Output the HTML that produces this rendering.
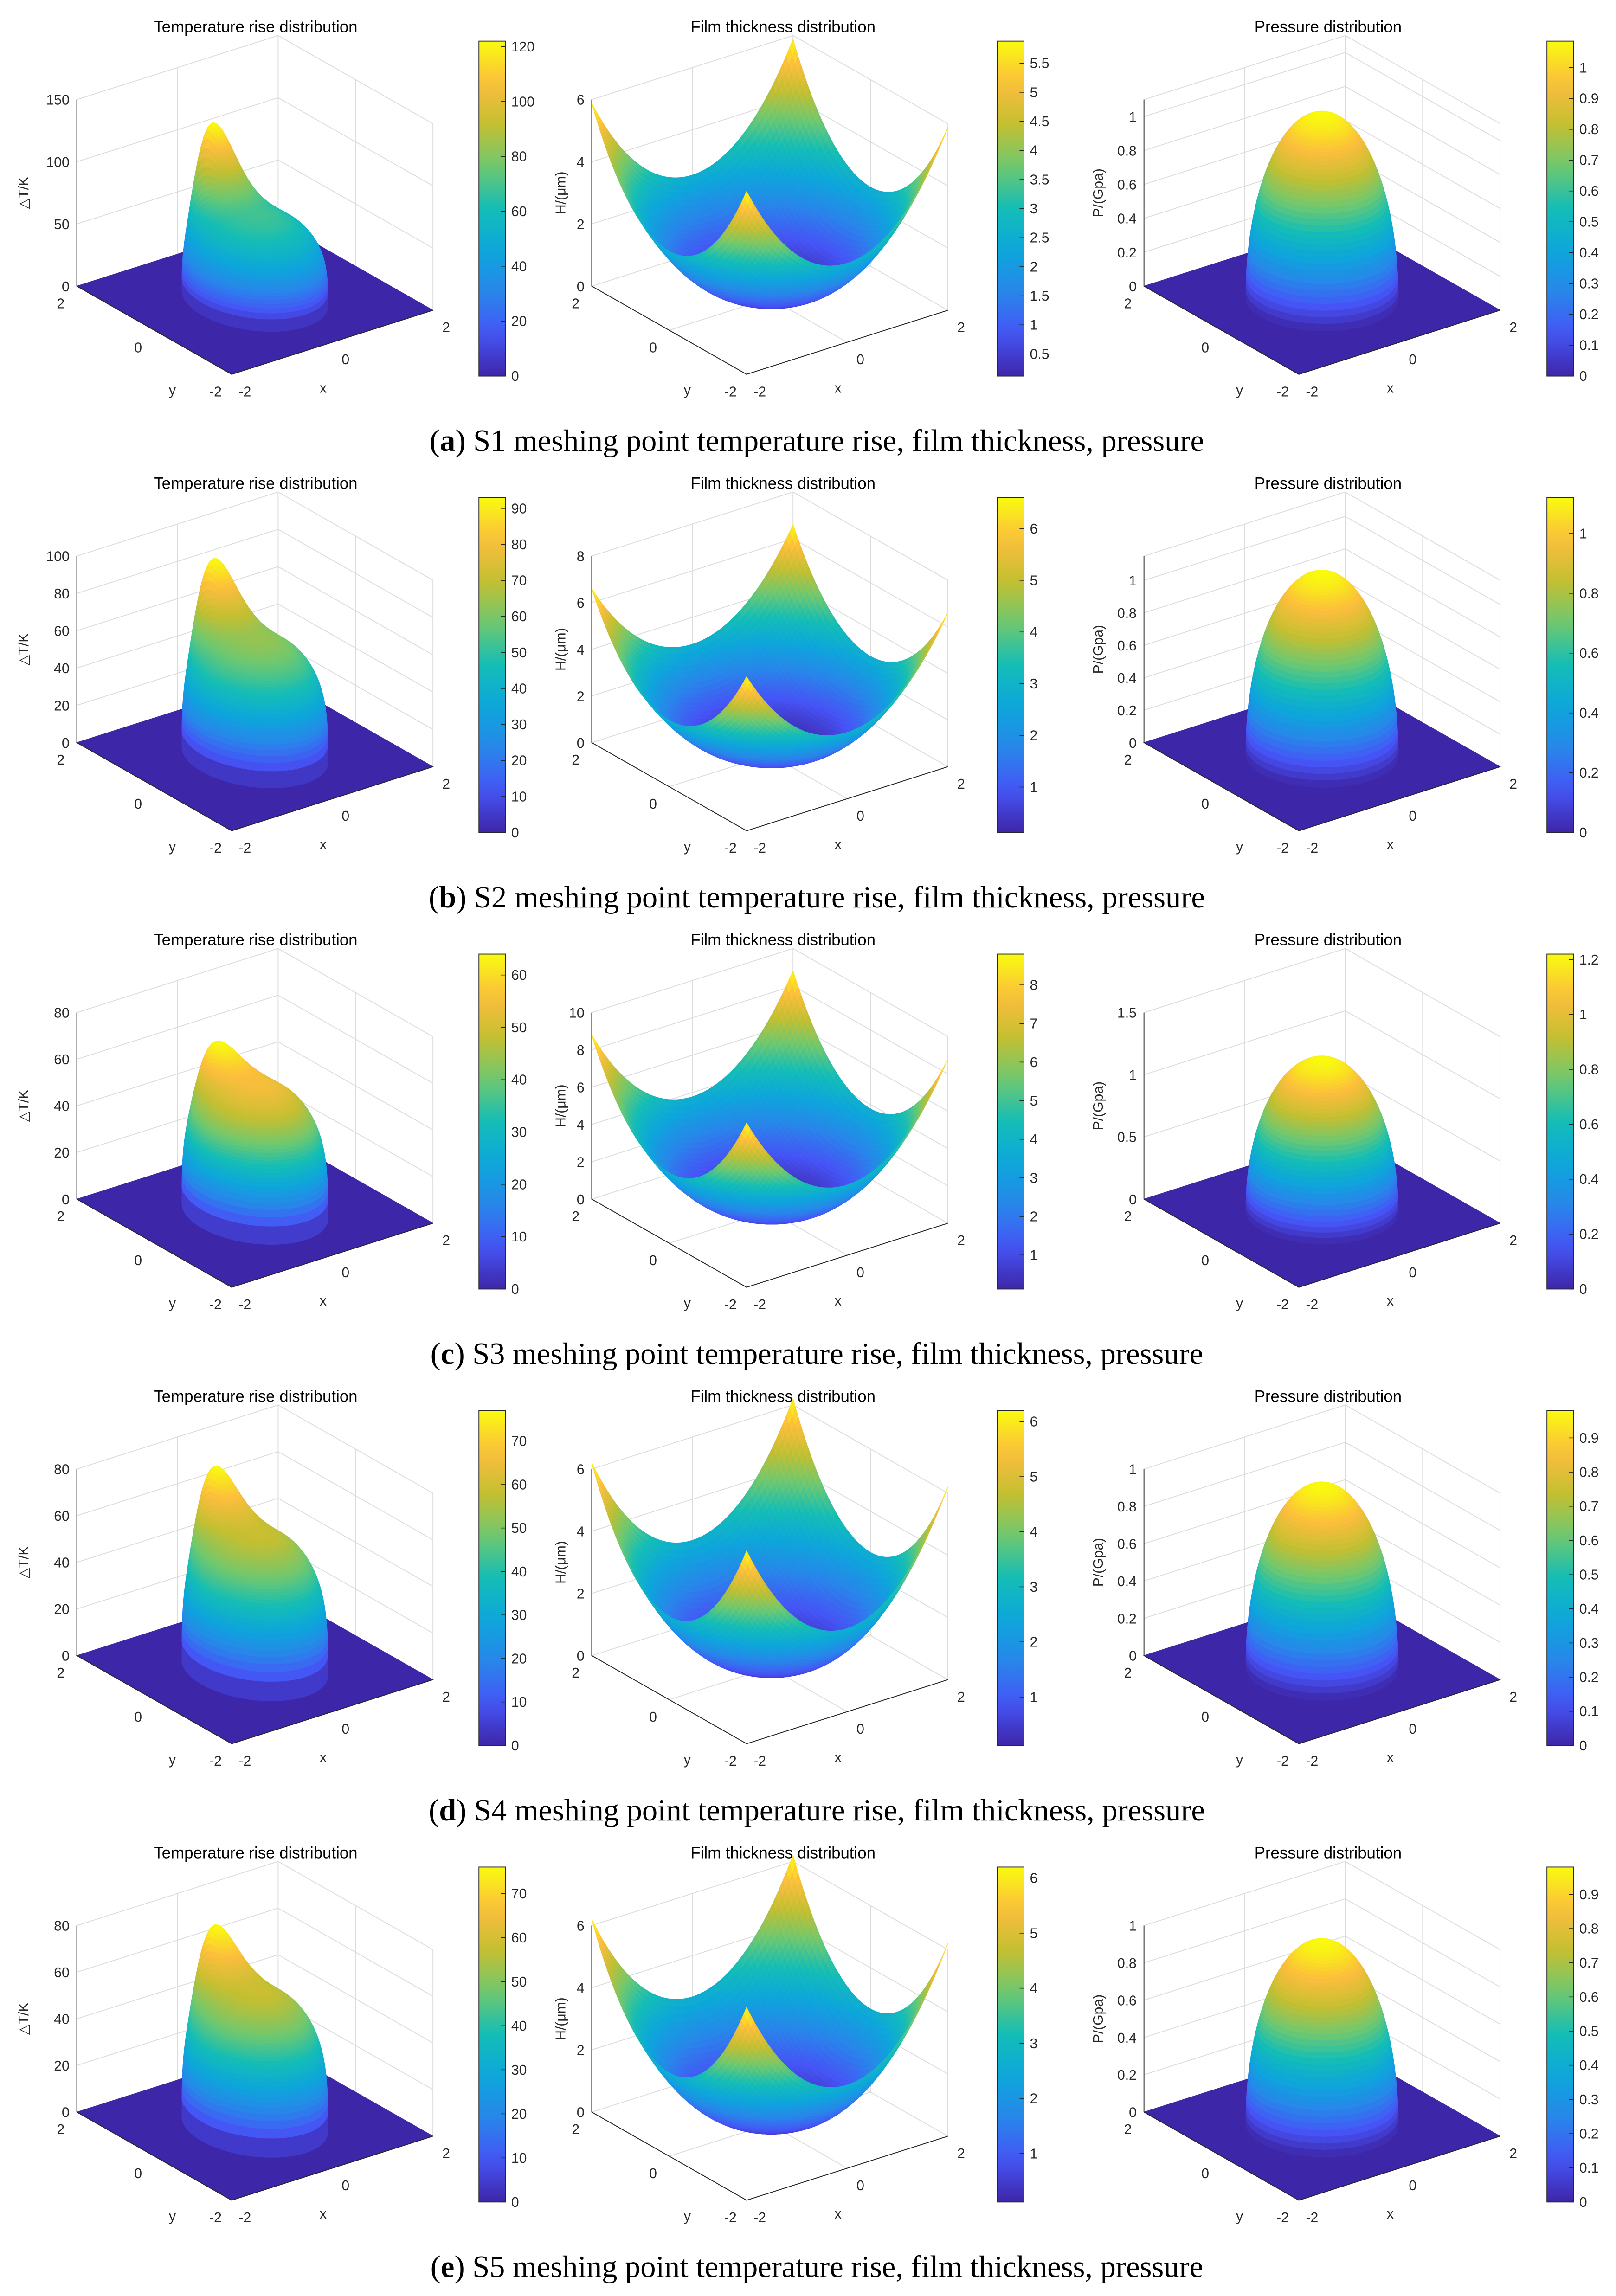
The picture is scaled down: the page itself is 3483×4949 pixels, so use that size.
<!DOCTYPE html>
<html><head><meta charset="utf-8"><title>S1–S5 meshing point surfaces: temperature rise, film thickness and pressure</title>
<style>
html,body{margin:0;padding:0;background:#fff;}
svg{display:block;}
.tk{font-family:"Liberation Sans",sans-serif;font-size:9.5px;fill:#262626;}
.ttl{font-family:"Liberation Sans",sans-serif;font-size:11px;fill:#000;}
.cap{font-family:"Liberation Serif",serif;font-size:21px;fill:#000;}
</style></head>
<body>
<svg id="fig" xmlns="http://www.w3.org/2000/svg" width="3483" height="4949" viewBox="0 0 1100 1563" preserveAspectRatio="none"></svg>
<script>
// ---- data arrays (one entry per row a..e) ----
const rowLetters=["a","b","c","d","e"];
const rowNames=["S1","S2","S3","S4","S5"];
const tempMax=[122,93,64,77,76];
const tempK=[1.3,0.9,0.5,0.7,0.7];
const tempZlim=[150,100,80,80,80];
const tempTicks=[[0,50,100,150],[0,20,40,60,80,100],[0,20,40,60,80],[0,20,40,60,80],[0,20,40,60,80]];
const tempCbTicks=[[0,20,40,60,80,100,120],[0,10,20,30,40,50,60,70,80,90],[0,10,20,30,40,50,60],[0,10,20,30,40,50,60,70],[0,10,20,30,40,50,60,70]];
const filmMin=[0.12,0.12,0.12,0.12,0.12];
const filmMax=[5.88,6.6,8.8,6.2,6.2];
const filmZlim=[6,8,10,6,6];
const filmTicks=[[0,2,4,6],[0,2,4,6,8],[0,2,4,6,8,10],[0,2,4,6],[0,2,4,6]];
const filmCbTicks=[[0.5,1,1.5,2,2.5,3,3.5,4,4.5,5,5.5],[1,2,3,4,5,6],[1,2,3,4,5,6,7,8],[1,2,3,4,5,6],[1,2,3,4,5,6]];
const presMax=[1.086,1.12,1.22,0.98,0.98];
const presZlim=[1.1,1.15,1.5,1.0,1.0];
const presTicks=[[0,0.2,0.4,0.6,0.8,1],[0,0.2,0.4,0.6,0.8,1],[0,0.5,1,1.5],[0,0.2,0.4,0.6,0.8,1],[0,0.2,0.4,0.6,0.8,1]];
const presCbTicks=[[0,0.1,0.2,0.3,0.4,0.5,0.6,0.7,0.8,0.9,1],[0,0.2,0.4,0.6,0.8,1],[0,0.2,0.4,0.6,0.8,1,1.2],[0,0.1,0.2,0.3,0.4,0.5,0.6,0.7,0.8,0.9],[0,0.1,0.2,0.3,0.4,0.5,0.6,0.7,0.8,0.9]];
const axisTicksXY=[-2,0,2];

const NS="http://www.w3.org/2000/svg";
const svg=document.getElementById("fig");
const ROW=310.75;
const colOx=[0,350.5,726.4];
const cbX=[326,679,1053];
const titleX=[174,533,904];
const pal=[[0,62,38,168],[0.125,70,84,246],[0.25,40,134,234],[0.375,13,166,219],[0.5,20,189,182],[0.625,110,200,112],[0.75,195,191,50],[0.875,252,190,61],[1,249,251,14]];
function parula(t){t=Math.max(0,Math.min(1,t));for(let i=1;i<pal.length;i++){if(t<=pal[i][0]){const a=pal[i-1],b=pal[i];const f=(t-a[0])/(b[0]-a[0]);return "rgb("+Math.round(a[1]+f*(b[1]-a[1]))+","+Math.round(a[2]+f*(b[2]-a[2]))+","+Math.round(a[3]+f*(b[3]-a[3]))+")";}}return "rgb(249,251,14)";}
function el(tag,parent){const e=document.createElementNS(NS,tag);parent.appendChild(e);return e;}
function fmt(v){return String(Math.round(v*100)/100);}

const defs=el("defs",svg);
const lg=el("linearGradient",defs);lg.setAttribute("id","parula");lg.setAttribute("x1","0");lg.setAttribute("y1","1");lg.setAttribute("x2","0");lg.setAttribute("y2","0");
for(let i=0;i<=20;i++){const s=el("stop",lg);s.setAttribute("offset",i/20);s.setAttribute("stop-color",parula(i/20));}

const TRX=1.05,TRY=1.3,PR=1.2;
function tempF(x,y,r){const e=1-(x/TRX)*(x/TRX)-(y/TRY)*(y/TRY);if(e<=0)return 0;const yy=Math.max(0,y);const g=1+tempK[r]*yy*yy*Math.exp(-x*x/0.25);return Math.pow(e,0.3)*g;}
function presF(x,y,r){const e=1-(x*x+y*y)/(PR*PR);return e<=0?0:presMax[r]*Math.sqrt(e);}
function filmF(x,y,r){return filmMin[r]+(filmMax[r]-filmMin[r])*Math.pow((x*x+y*y)/8,1.25);}

function qpath(p1,p2,p3,p4,col){return '<path d="M'+p1[0].toFixed(2)+','+p1[1].toFixed(2)+'L'+p2[0].toFixed(2)+','+p2[1].toFixed(2)+'L'+p3[0].toFixed(2)+','+p3[1].toFixed(2)+'L'+p4[0].toFixed(2)+','+p4[1].toFixed(2)+'Z" fill="'+col+'" stroke="'+col+'" stroke-width="0.45"/>';}

function panel(r,c){
  const ox=colOx[c],oy=r*ROW;
  const zl=[tempZlim,filmZlim,presZlim][c][r];
  const P=(x,y,z)=>[173.5+34.25*x-26.35*y+ox,203-10.9*x-15*y-z*127/zl+oy];
  const g=el("g",svg);
  
  
  const ticks=[tempTicks,filmTicks,presTicks][c][r];
  const grid=el("g",g);
  
  
  let d="";
  const L=(a,b)=>{d+="M"+a[0].toFixed(2)+","+a[1].toFixed(2)+"L"+b[0].toFixed(2)+","+b[1].toFixed(2);};
  ticks.forEach(t=>{L(P(-2,2,t),P(2,2,t));L(P(2,2,t),P(2,-2,t));});
  L(P(-2,2,zl),P(2,2,zl));L(P(2,2,zl),P(2,-2,zl));
  axisTicksXY.forEach(v=>{L(P(v,2,0),P(v,2,zl));L(P(2,v,0),P(2,v,zl));L(P(v,-2,0),P(v,2,0));L(P(-2,v,0),P(2,v,0));});
  const gp=el("path",grid);gp.setAttribute("d",d);gp.setAttribute("stroke","#dcdcdc");gp.setAttribute("stroke-width","0.6");gp.setAttribute("fill","none");
  const sg=el("g",g);
  
  
  const cmin=c===1?filmMin[r]:0,cmax=[tempMax,filmMax,presMax][c][r];
  let html="";
  if(c===1){
    const N=60,h=4/N;const Z=[];
    for(let i=0;i<=N;i++){Z.push([]);for(let j=0;j<=N;j++)Z[i].push(filmF(-2+i*h,-2+j*h,r));}
    const quads=[];
    for(let i=0;i<N;i++)for(let j=0;j<N;j++){const xc=-2+(i+0.5)*h,yc=-2+(j+0.5)*h;quads.push([10.9*xc+15*yc,i,j]);}
    quads.sort((a,b)=>b[0]-a[0]);
    quads.forEach(q=>{const i=q[1],j=q[2];const x0=-2+i*h,y0=-2+j*h;
      const v=(Z[i][j]+Z[i+1][j]+Z[i+1][j+1]+Z[i][j+1])/4;
      html+=qpath(P(x0,y0,Z[i][j]),P(x0+h,y0,Z[i+1][j]),P(x0+h,y0+h,Z[i+1][j+1]),P(x0,y0+h,Z[i][j+1]),parula((v-cmin)/(cmax-cmin)));});
  } else {
    const fc=parula(0);
    html+=qpath(P(-2,-2,0),P(2,-2,0),P(2,2,0),P(-2,2,0),fc);
    const rx=c===0?TRX:PR,ry=c===0?TRY:PR;
    const NR=44,NT=96;
    let scale=1;
    if(c===0){let mx=0;for(let k=0;k<=NR;k++)for(let t=0;t<NT;t++){const s=Math.sin(k/NR*Math.PI/2)*0.9999,th=t/NT*2*Math.PI;const v=tempF(rx*s*Math.cos(th),ry*s*Math.sin(th),r);if(v>mx)mx=v;}scale=tempMax[r]/mx;}
    const f=c===0?tempF:presF;
    const pts=[];
    for(let k=0;k<=NR;k++){pts.push([]);const s=Math.sin(k/NR*Math.PI/2)*0.99999;
      for(let t=0;t<=NT;t++){const th=t/NT*2*Math.PI;const x=rx*s*Math.cos(th),y=ry*s*Math.sin(th);pts[k].push([x,y,k===NR?0:f(x,y,r)*scale]);}}
    const quads=[];
    for(let k=0;k<NR;k++)for(let t=0;t<NT;t++){const a=pts[k][t],b=pts[k+1][t],cc=pts[k+1][t+1],dd=pts[k][t+1];
      const xc=(a[0]+b[0]+cc[0]+dd[0])/4,yc=(a[1]+b[1]+cc[1]+dd[1])/4;quads.push([10.9*xc+15*yc,a,b,cc,dd]);}
    quads.sort((p,q)=>q[0]-p[0]);
    quads.forEach(q=>{const v=(q[1][2]+q[2][2]+q[3][2]+q[4][2])/4;
      html+=qpath(P(...q[1]),P(...q[2]),P(...q[3]),P(...q[4]),parula((v-cmin)/(cmax-cmin)));});
  }
  sg.innerHTML=html;
  const ax=el("path",g);
  
  
  const A=P(-2,2,0),B=P(-2,-2,0),C=P(2,-2,0),T=P(-2,2,zl);
  ax.setAttribute("d","M"+T[0]+","+T[1]+"L"+A[0]+","+A[1]+"L"+B[0]+","+B[1]+"L"+C[0]+","+C[1]);
  ax.setAttribute("stroke","#262626");ax.setAttribute("stroke-width","0.6");ax.setAttribute("fill","none");
  ticks.forEach(t=>{const p=P(-2,2,t);const tx=el("text",g);
    
    
    tx.setAttribute("class","tk");tx.setAttribute("x",p[0]-5);tx.setAttribute("y",p[1]+3.5);tx.setAttribute("text-anchor","end");tx.textContent=fmt(t);});
  axisTicksXY.forEach(v=>{const p=P(-2,v,0);const tx=el("text",g);
    
    
    tx.setAttribute("class","tk");tx.setAttribute("x",p[0]-11);tx.setAttribute("y",p[1]+15);tx.setAttribute("text-anchor","middle");tx.textContent=fmt(v);});
  axisTicksXY.forEach(v=>{const p=P(v,-2,0);const tx=el("text",g);
    
    
    tx.setAttribute("class","tk");tx.setAttribute("x",p[0]+9);tx.setAttribute("y",p[1]+15);tx.setAttribute("text-anchor","middle");tx.textContent=fmt(v);});
  const yl=P(-2,-1,0),xl=P(-0.3,-2,0);
  let t1=el("text",g);
  
  
  t1.setAttribute("class","tk");t1.setAttribute("x",yl[0]-14);t1.setAttribute("y",yl[1]+29);t1.setAttribute("text-anchor","middle");t1.textContent="y";
  let t2=el("text",g);
  
  
  t2.setAttribute("class","tk");t2.setAttribute("x",xl[0]+4);t2.setAttribute("y",xl[1]+31);t2.setAttribute("text-anchor","middle");t2.textContent="x";
  const zt=el("text",g);
  
  
  const zx=A[0]+[-33,-18,-28][c],zy=(A[1]+T[1])/2;
  zt.setAttribute("class","tk");zt.setAttribute("x",zx);zt.setAttribute("y",zy);zt.setAttribute("text-anchor","middle");zt.setAttribute("transform","rotate(-90 "+zx+" "+zy+")");
  zt.textContent=["△T/K","H/(μm)","P/(Gpa)"][c];
  const tt=el("text",g);
  
  
  tt.setAttribute("class","ttl");tt.setAttribute("x",titleX[c]);tt.setAttribute("y",22+oy);tt.setAttribute("text-anchor","middle");
  tt.textContent=["Temperature rise distribution","Film thickness distribution","Pressure distribution"][c];
  const cb=el("g",g);
  
  
  const y0=28+oy,y1=256+oy,cx=cbX[c];
  const rc=el("rect",cb);rc.setAttribute("x",cx);rc.setAttribute("y",y0);rc.setAttribute("width",18);rc.setAttribute("height",y1-y0);rc.setAttribute("fill","url(#parula)");rc.setAttribute("stroke","#262626");rc.setAttribute("stroke-width","0.6");
  [tempCbTicks,filmCbTicks,presCbTicks][c][r].forEach(t=>{const yy=y1-(t-cmin)/(cmax-cmin)*(y1-y0);
    const tl=el("text",cb);
    
    
    tl.setAttribute("class","tk");tl.setAttribute("x",cx+22);tl.setAttribute("y",yy+3.3);tl.textContent=fmt(t);
    const tm=el("line",cb);tm.setAttribute("x1",cx+15);tm.setAttribute("x2",cx+18);tm.setAttribute("y1",yy);tm.setAttribute("y2",yy);tm.setAttribute("stroke","#262626");tm.setAttribute("stroke-width","0.5");});
}
for(let r=0;r<5;r++){
  for(let c=0;c<3;c++)panel(r,c);
  const cap=el("text",svg);
  
  
  cap.setAttribute("class","cap");cap.setAttribute("x",556);cap.setAttribute("y",307+r*ROW);cap.setAttribute("text-anchor","middle");
  cap.innerHTML='(<tspan font-weight="bold">'+rowLetters[r]+'</tspan>) '+rowNames[r]+' meshing point temperature rise, film thickness, pressure';
}
</script>
</body></html>
